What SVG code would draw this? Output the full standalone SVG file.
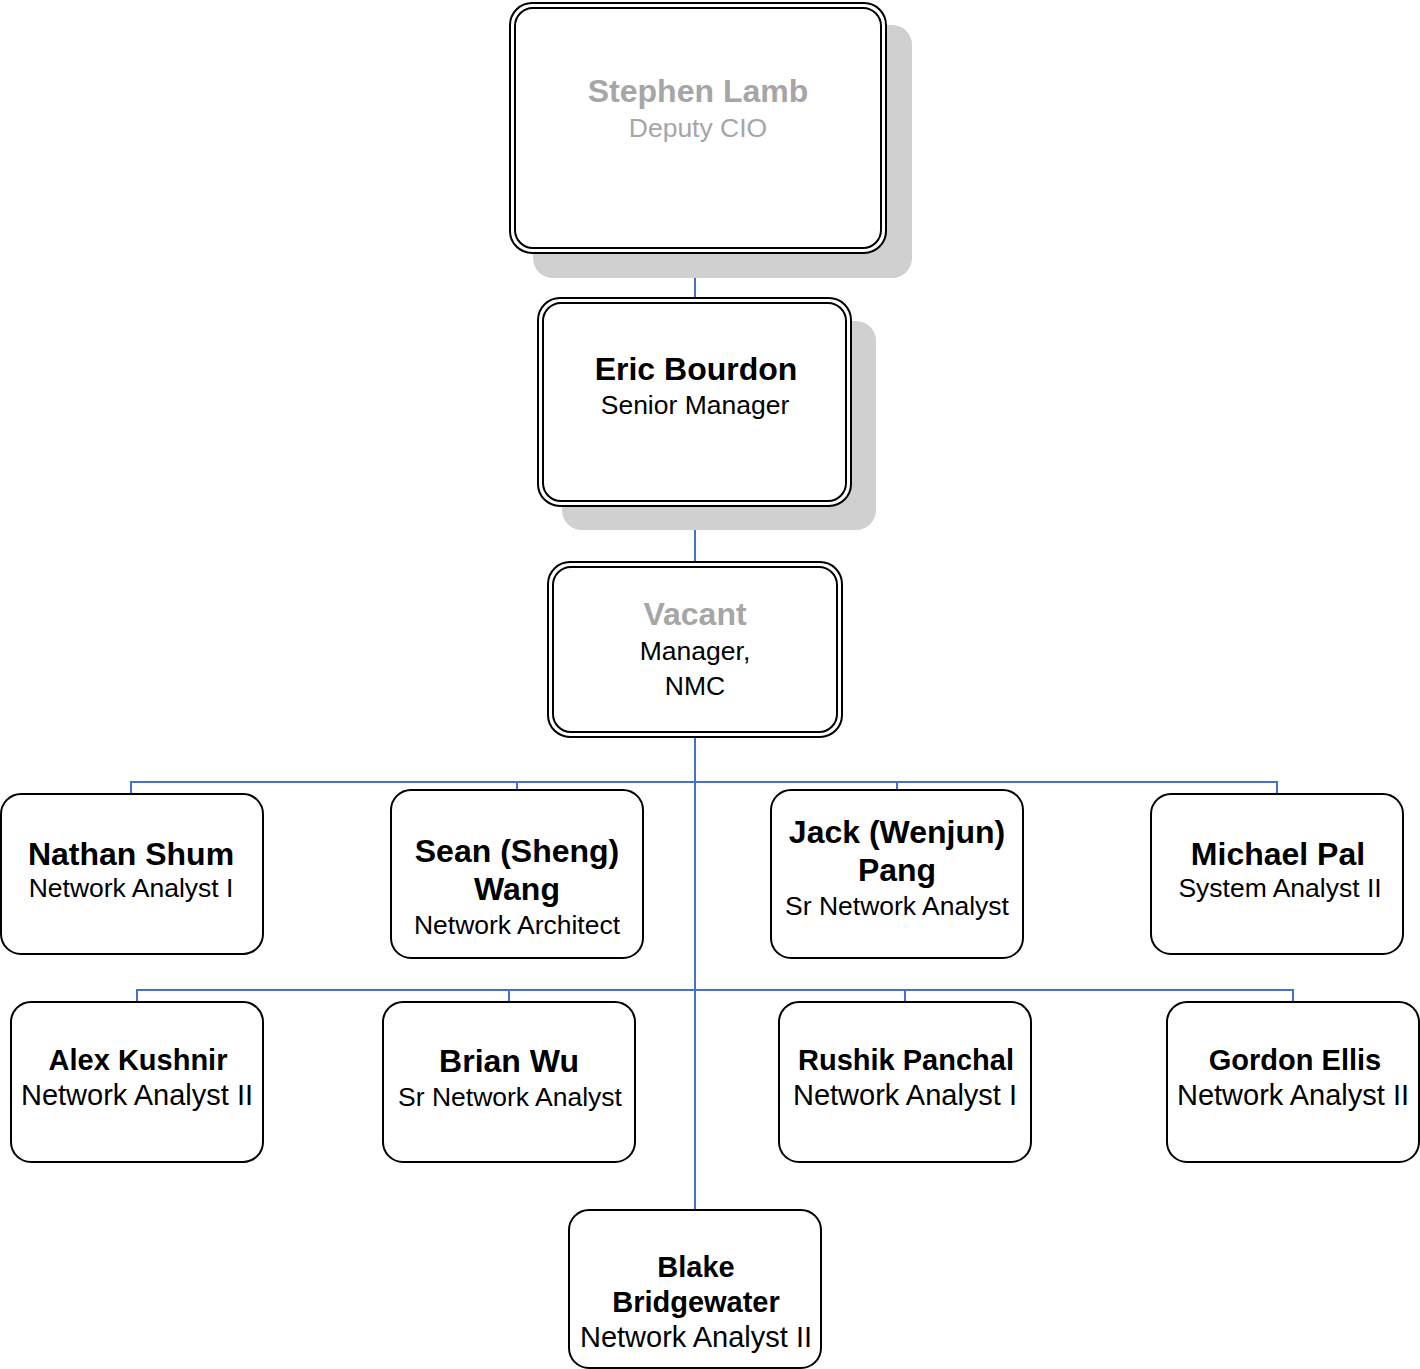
<svg xmlns="http://www.w3.org/2000/svg" width="1420" height="1369" viewBox="0 0 1420 1369">
<style>
text{font-family:"Liberation Sans",Arial,sans-serif;text-anchor:middle;fill:#000}
.n{font-weight:bold;font-size:32px}
.t{font-size:26.5px}
.n2{font-weight:bold;font-size:29px}
.t2{font-size:29px}
.g{fill:#A6A6A6}
.box{fill:#fff;stroke:#000;stroke-width:2}
.in{fill:none;stroke:#000;stroke-width:2}
.sh{fill:#D0D0D0}
.c{fill:none;stroke:#4472C4;stroke-width:2}
</style>
<rect width="1420" height="1369" fill="#fff"/>
<g id="connectors">
<path class="c" d="M695 253V298"/>
<path class="c" d="M695 506V562"/>
<path class="c" d="M695 737V1210"/>
<path class="c" d="M131 794V782H1277V794M517 782V790M897 782V790"/>
<path class="c" d="M137 1002V990H1293V1002M509 990V1002M905 990V1002"/>
</g>
<g id="stephen">
<rect class="sh" x="533" y="25" width="379" height="253" rx="20"/>
<rect class="box" x="510" y="3" width="376" height="250" rx="22"/>
<rect class="in" x="515" y="8" width="366" height="240" rx="18"/>
<text class="n g" x="698" y="102">Stephen Lamb</text>
<text class="t g" x="698" y="137">Deputy CIO</text>
</g>
<g id="eric">
<rect class="sh" x="562" y="321" width="314" height="209" rx="20"/>
<rect class="box" x="538" y="298" width="313" height="208" rx="22"/>
<rect class="in" x="543" y="303" width="303" height="198" rx="18"/>
<text class="n" x="696" y="380">Eric Bourdon</text>
<text class="t" x="695" y="414">Senior Manager</text>
</g>
<g id="vacant">
<rect class="box" x="548" y="562" width="294" height="175" rx="22"/>
<rect class="in" x="553" y="567" width="284" height="165" rx="18"/>
<text class="n g" x="695" y="625">Vacant</text>
<text class="t" x="695" y="660">Manager,</text>
<text class="t" x="695" y="695">NMC</text>
</g>
<g id="nathan">
<rect class="box" x="1" y="794" width="262" height="160" rx="20"/>
<text class="n" x="131" y="865">Nathan Shum</text>
<text class="t" x="131" y="897">Network Analyst I</text>
</g>
<g id="sean">
<rect class="box" x="391" y="790" width="252" height="168" rx="20"/>
<text class="n" x="517" y="862">Sean (Sheng)</text>
<text class="n" x="517" y="900">Wang</text>
<text class="t" x="517" y="934">Network Architect</text>
</g>
<g id="jack">
<rect class="box" x="771" y="790" width="252" height="168" rx="20"/>
<text class="n" x="897" y="843">Jack (Wenjun)</text>
<text class="n" x="897" y="881">Pang</text>
<text class="t" x="897" y="915">Sr Network Analyst</text>
</g>
<g id="michael">
<rect class="box" x="1151" y="794" width="252" height="160" rx="20"/>
<text class="n" x="1278" y="865">Michael Pal</text>
<text class="t" x="1280" y="897">System Analyst II</text>
</g>
<g id="alex">
<rect class="box" x="11" y="1002" width="252" height="160" rx="20"/>
<text class="n2" x="138" y="1070">Alex Kushnir</text>
<text class="t2" x="137" y="1105">Network Analyst II</text>
</g>
<g id="brian">
<rect class="box" x="383" y="1002" width="252" height="160" rx="20"/>
<text class="n" x="509" y="1072">Brian Wu</text>
<text class="t" x="510" y="1106">Sr Network Analyst</text>
</g>
<g id="rushik">
<rect class="box" x="779" y="1002" width="252" height="160" rx="20"/>
<text class="n2" x="906" y="1070">Rushik Panchal</text>
<text class="t2" x="905" y="1105">Network Analyst I</text>
</g>
<g id="gordon">
<rect class="box" x="1167" y="1002" width="252" height="160" rx="20"/>
<text class="n2" x="1295" y="1070">Gordon Ellis</text>
<text class="t2" x="1293" y="1105">Network Analyst II</text>
</g>
<g id="blake">
<rect class="box" x="569" y="1210" width="252" height="158" rx="20"/>
<text class="n2" x="696" y="1277">Blake</text>
<text class="n2" x="696" y="1312">Bridgewater</text>
<text class="t2" x="696" y="1347">Network Analyst II</text>
</g>
</svg>
